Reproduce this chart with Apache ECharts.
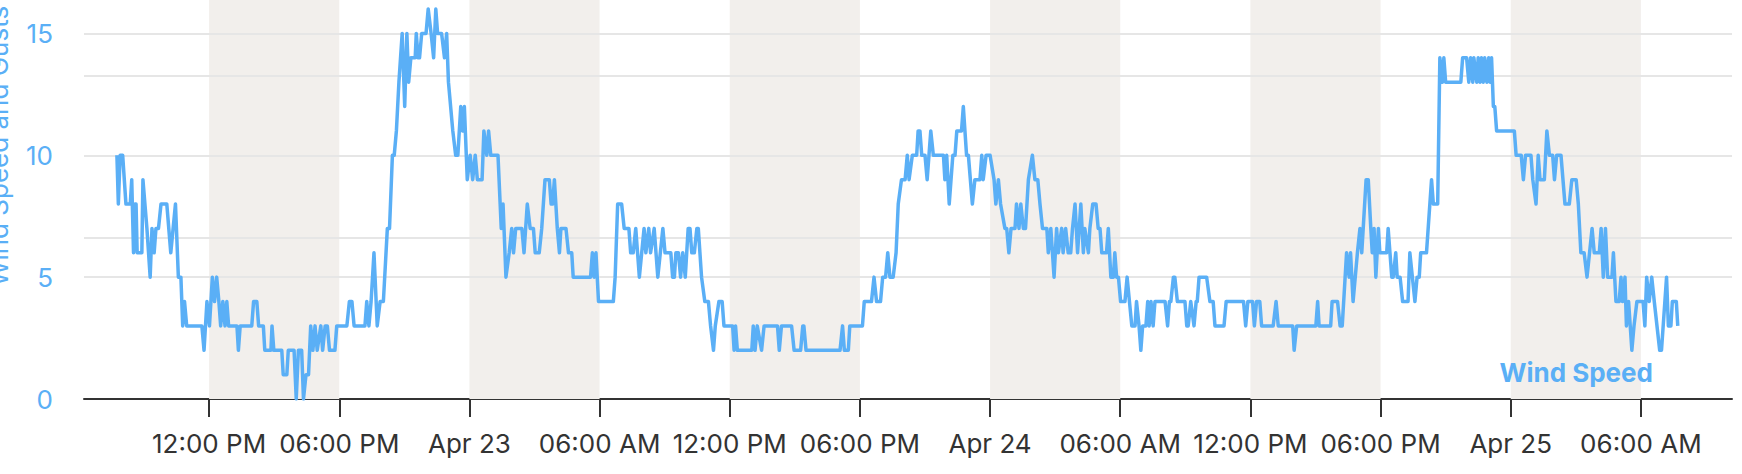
<!DOCTYPE html>
<html><head><meta charset="utf-8">
<script src="https://cdn.jsdelivr.net/npm/echarts@6/dist/echarts.min.js"></script>
<style>html,body{margin:0;padding:0;background:#fff}#c{width:1742px;height:474px}</style>
</head><body><div id="c"></div>
<script>
// Readings: [minutes since 2024-04-22 00:00, wind speed]
const readings = [
[465,10],[469,8],[474,10],[481,10],[490,8],[502,8],[506,9],[511,6],[515,8],[518,8],
[521,6],[534,6],[537,9],[548,7],[557,5],[562,7],[568,6],[573,7],[580,7],[587,8],
[603,8],[614,6],[627,8],[635,5],[642,5],[647,3],[652,4],[658,3],[700,3],[706,2],
[714,4],[721,3],[729,5],[735,4],[741,5],[747,4],[752,3],[758,4],[764,3],[769,4],
[774,3],[797,3],[801,2],[806,3],[838,3],[843,4],[852,4],[857,3],[870,3],[874,2],
[891,2],[894,3],[899,2],[921,2],[925,1],[935,1],[939,2],[955,2],[961,0],[967,2],
[976,2],[981,0],[988,1],[995,1],[1001,3],[1007,2],[1013,3],
[1019,2],[1029,3],[1034,2],[1041,3],[1047,3],[1053,2],[1068,2],[1073,3],[1101,3],[1108,4],
[1115,4],[1121,3],[1151,3],[1156,4],[1162,3],[1168,4],[1176,6],[1185,3],[1193,4],[1202,4],
[1213,7],[1219,7],[1227,10],[1232,10],[1238,11],[1245,13],[1254,15],[1261,12],[1267,15],[1272,13],
[1278,14],[1290,14],[1293,15],[1298,14],[1302,14],[1308,15],[1320,15],[1326,16],[1334,15],[1341,14],
[1347,16],[1352,15],[1363,15],[1371,14],[1377,15],[1382,13],[1394,11],[1402,10],[1408,10],[1416,12],[1421,11],
[1426,12],[1434,9],[1442,10],[1449,9],[1456,10],[1462,9],[1475,9],[1480,11],[1488,10],[1493,11],
[1499,10],[1519,10],[1525,8],[1528,7],[1533,8],[1541,5],[1550,6],[1557,7],[1562,6],[1568,7],
[1585,7],[1591,6],[1600,8],[1608,7],[1617,7],[1622,6],[1633,6],[1640,7],[1649,9],[1661,9],
[1666,8],[1670,8],[1675,9],[1683,7],[1689,6],[1693,7],[1707,7],[1714,6],[1723,6],[1727,5],
[1775,5],[1780,6],[1785,5],[1790,6],[1797,4],[1838,4],[1843,5],[1850,8],[1861,8],[1868,7],
[1881,7],[1886,6],[1893,6],[1900,7],[1910,5],[1923,7],[1928,6],[1936,7],[1941,6],[1951,7],
[1961,5],[1975,7],[1981,6],[1997,6],[2002,5],[2007,5],[2011,6],[2018,6],[2024,5],[2030,6],
[2037,5],[2045,7],[2050,7],[2055,6],[2062,6],[2069,7],[2073,7],[2082,5],[2091,4],[2101,4],
[2107,3],[2115,2],[2120,3],
[2130,4],[2139,4],[2144,3],[2168,3],[2172,2],[2176,3],[2181,2],[2221,2],[2225,3],[2230,2],
[2236,3],[2248,2],[2255,3],[2292,3],[2297,2],[2303,3],[2331,3],[2338,2],[2356,2],[2362,3],
[2365,3],[2371,2],[2465,2],[2472,3],[2477,2],[2488,2],[2492,3],[2527,3],[2532,4],[2552,4],
[2559,5],[2566,4],[2577,4],[2583,5],[2591,5],[2597,6],[2603,5],[2612,5],[2620,6],[2626,8],
[2635,9],[2645,9],[2651,10],[2656,9],[2665,10],[2677,10],[2681,11],
[2686,11],[2691,10],[2700,10],[2706,9],[2716,11],[2723,10],[2751,10],[2755,9],[2760,10],[2767,8],
[2777,10],[2783,10],[2788,11],[2801,11],[2806,12],[2815,10],[2820,10],[2831,8],[2838,9],[2852,9],
[2857,10],[2861,9],[2869,10],[2880,10],[2891,9],[2896,8],[2903,9],[2909,8],[2921,7],[2926,7],
[2932,6],[2938,7],[2949,7],[2953,8],[2960,7],[2965,8],[2972,7],[2978,7],[2986,9],[2997,10],
[3004,9],[3012,9],[3018,8],[3025,7],[3037,7],[3041,6],[3048,7],[3057,5],[3064,7],[3069,6],
[3078,7],[3082,6],[3089,7],[3096,6],[3103,6],[3108,7],[3115,8],[3122,6],[3131,8],[3138,6],
[3142,7],[3152,6],[3156,7],[3164,8],[3173,8],[3179,7],[3184,7],[3189,6],[3202,6],[3207,7],
[3214,5],[3221,5],[3225,6],[3230,5],[3235,5],
[3241,4],[3253,4],[3259,5],[3272,3],[3281,3],[3285,4],[3292,3],[3297,2],[3302,3],[3311,3],
[3316,4],[3320,3],[3325,4],[3331,3],[3336,4],[3364,4],[3371,3],[3376,4],[3380,4],[3387,5],
[3391,5],[3398,4],[3419,4],[3424,3],[3428,3],[3435,4],[3444,3],[3450,4],[3453,4],[3458,5],
[3479,5],[3488,4],[3497,4],[3502,3],[3527,3],[3533,4],[3581,4],[3587,3],[3593,4],[3606,4],
[3611,3],[3617,4],[3626,4],[3631,3],[3663,3],[3671,4],[3677,3],[3717,3],[3721,2],[3728,3],
[3781,3],
[3786,4],[3790,3],[3822,3],[3826,4],[3841,4],[3848,3],[3854,3],[3862,5],[3866,6],[3873,5],
[3877,6],[3884,4],[3896,6],[3903,7],[3908,6],[3912,7],[3920,9],[3926,9],[3933,7],[3937,6],
[3942,7],[3947,5],[3954,7],[3958,6],[3977,6],[3981,7],[3986,6],[3991,5],[3995,5],[4002,6],
[4006,5],[4014,5],[4021,4],[4036,4],[4041,6],[4055,4],[4061,5],[4067,5],[4071,6],[4087,6],
[4101,9],[4106,8],[4118,8],[4124,14],[4131,13],[4135,14],[4140,13],[4182,13],[4187,14],[4198,14],
[4204,13],[4209,14],[4215,13],[4218,14],[4226,13],[4230,14],[4235,13],[4239,14],[4244,13],[4248,14],
[4254,13],[4259,14],[4263,13],[4267,14],[4272,12],[4276,12],[4281,11],[4330,11],
[4335,10],[4349,10],[4355,9],[4361,10],[4376,10],[4381,9],[4390,8],[4396,10],[4401,9],[4413,9],
[4420,11],[4427,10],[4436,10],[4441,9],[4447,10],[4459,10],[4470,8],[4482,8],[4489,9],[4501,9],
[4507,8],[4514,6],[4523,6],[4531,5],[4545,7],[4551,6],[4565,6],[4570,7],[4576,5],[4582,7],
[4588,5],[4600,5],[4604,6],[4611,4],[4620,4],[4625,5],[4629,4],[4636,5],[4640,3],[4646,4],
[4655,2],[4661,3],[4669,4],[4686,4],[4691,3],[4696,5],[4703,4],[4710,5],[4717,4],[4732,2],
[4737,2],[4751,5],[4756,3],[4763,3],[4767,4],[4778,4],[4782,3]
];
const tickTimes = ['2024-04-22 12:00','2024-04-22 18:00','2024-04-23 00:00','2024-04-23 06:00',
  '2024-04-23 12:00','2024-04-23 18:00','2024-04-24 00:00','2024-04-24 06:00',
  '2024-04-24 12:00','2024-04-24 18:00','2024-04-25 00:00','2024-04-25 06:00'];
const tickLabels = ['12:00 PM','06:00 PM','Apr 23','06:00 AM','12:00 PM','06:00 PM',
  'Apr 24','06:00 AM','12:00 PM','06:00 PM','Apr 25','06:00 AM'];
const shadedBands = [['2024-04-22 12:00','2024-04-22 18:00'],['2024-04-23 00:00','2024-04-23 06:00'],
  ['2024-04-23 12:00','2024-04-23 18:00'],['2024-04-24 00:00','2024-04-24 06:00'],
  ['2024-04-24 12:00','2024-04-24 18:00'],['2024-04-25 00:00','2024-04-25 06:00']];
const yTickValues = [0, 5, 10, 15];
const gridLineValues = [5, 6.63, 10, 13.26, 15];
const axisStart = '2024-04-22 06:14';
const axisEnd = '2024-04-25 10:12';
const yMax = 16.37;
const seriesName = 'Wind Speed';
const yAxisTitle = 'Wind Speed and Gusts';

const BLUE = '#5aaff6';
const base = Date.UTC(2024, 3, 22, 0, 0);
function toMin(s){const [d,t]=s.split(' ');const [Y,M,D]=d.split('-').map(Number);const [h,m]=t.split(':').map(Number);return (Date.UTC(Y,M-1,D,h,m)-base)/60000;}
const tickMin = tickTimes.map(toMin);

const chart = echarts.init(document.getElementById('c'), null, {renderer:'svg'});
chart.setOption({
  animation:false,
  grid:{left:84, right:10, top:0, bottom:75},
  xAxis:{type:'value', min:toMin(axisStart), max:toMin(axisEnd),
    axisLine:{lineStyle:{color:'#333', width:2}},
    axisTick:{show:true, length:18, lineStyle:{color:'#333', width:2}, customValues:tickMin},
    axisLabel:{customValues:tickMin, margin:31, color:'#333', fontSize:26, fontFamily:'Inter',
      formatter:(v)=>{const i=tickMin.findIndex(t=>Math.abs(t-v)<0.5);return i>=0?tickLabels[i]:'';}},
    splitLine:{show:false}},
  yAxis:{type:'value', min:0, max:yMax, interval:5,
    axisLine:{show:false}, axisTick:{show:false}, splitLine:{show:false},
    axisLabel:{customValues:yTickValues, color:BLUE, fontSize:26, fontFamily:'Inter', margin:31}},
  graphic:[
    {type:'text', z:100, x:-2, y:146, rotation:Math.PI/2, style:{text:yAxisTitle, font:'26px Inter', fill:BLUE, align:'center', verticalAlign:'middle'}},
    {type:'text', z:100, x:1653, y:372, style:{text:seriesName, font:'bold 26px Inter', fill:BLUE, align:'right', verticalAlign:'middle'}}
  ],
  series:[{
    name:seriesName, type:'line', data:readings, showSymbol:false, z:3,
    lineStyle:{color:BLUE, width:3.5, join:'round'}, itemStyle:{color:BLUE},
    markArea:{silent:true, z:1, itemStyle:{color:'#f2efec'},
      data:shadedBands.map(b=>[{xAxis:toMin(b[0])},{xAxis:toMin(b[1])}])},
    markLine:{silent:true, z:2, symbol:['none','none'], label:{show:false},
      lineStyle:{color:'#e6e6e6', width:2, type:'solid'},
      data:gridLineValues.map(v=>({yAxis:v}))}
  }]
});
</script></body></html>
